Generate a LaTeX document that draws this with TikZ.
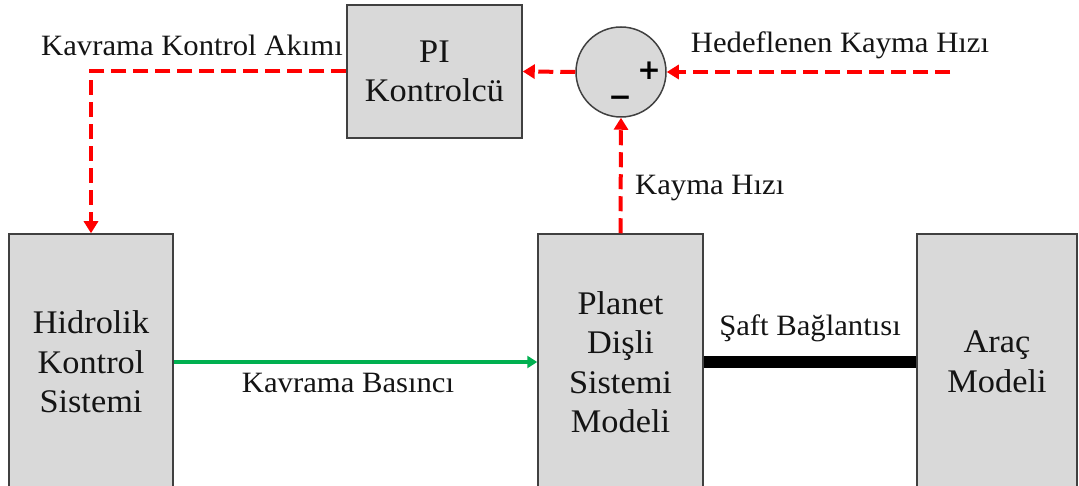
\documentclass[tikz,border=0pt]{standalone}
\usepackage{fontspec}
\setmainfont[FakeStretch=1.04]{Liberation Serif}
\newfontfamily\signfont{DejaVu Sans}
\usetikzlibrary{arrows.meta}
\definecolor{boxgray}{HTML}{D9D9D9}
\definecolor{edgegray}{HTML}{404040}
\definecolor{sigred}{HTML}{FF0000}
\definecolor{siggreen}{HTML}{00B050}
\definecolor{inkblack}{HTML}{141414}

\begin{document}
\begin{tikzpicture}[x=1pt,y=-1pt,
  block/.style={draw=edgegray,line width=1.5pt,fill=boxgray,align=center,
    text=inkblack,font=\fontsize{33}{39.5}\selectfont,inner sep=0pt},
  sumjunction/.style={circle,draw=edgegray,line width=1.5pt,fill=boxgray,
    minimum size=90pt,inner sep=0pt},
  ctrl/.style={draw=sigred,line width=4pt,dash pattern=on 15pt off 7pt,
    -{Triangle[length=12pt,width=14pt]}},
  press/.style={draw=siggreen,line width=3.5pt,-{Triangle[length=10pt,width=12pt]}},
  shaft/.style={draw=black,line width=12pt},
  lbl/.style={font=\fontsize{29.5}{32}\selectfont,text=inkblack,inner sep=0pt},
  sign/.style={font=\signfont\bfseries\fontsize{28}{28}\selectfont,inner sep=0pt}]

% canvas; the lower blocks run past the bottom edge
\clip (0,0) rectangle (1079,486);
\fill[white] (0,0) rectangle (1079,486);

% blocks
\node[block,minimum width=175pt,minimum height=133pt] (pi) at (434.5,71.5)
  {PI\\Kontrolcü};
\node[block,minimum width=164pt,minimum height=256pt] (hid) at (91,362)
  {Hidrolik\\Kontrol\\Sistemi};
\node[block,minimum width=165pt,minimum height=256pt] (pla) at (620.5,362)
  {Planet\\Dişli\\Sistemi\\Modeli};
\node[block,minimum width=160pt,minimum height=256pt] (arac) at (997,362)
  {Araç\\Modeli};

% summing junction
\node[sumjunction] (sum) at (621,72) {};
\node[sign] (plus) at (649,71) {+};
\node[sign] (minus) at (620,101) {−};

% signal paths
\coordinate (ref) at (950,72);
\draw[ctrl] (ref) -- (sum.east);
\draw[ctrl] (sum.west) -- (pi.east);
\draw[ctrl] (pi.west) -| (hid.north);
\draw[ctrl] (pla.north) -- (sum.south);
\draw[press] (hid.east) -- (pla.west);
\draw[shaft] (pla.east) -- (arac.west);

% labels
\node[lbl] (lref) at (840,45) {Hedeflenen Kayma Hızı};
\node[lbl,anchor=east] (lcur) at (343,45) {Kavrama Kontrol Akımı};
\node[lbl,anchor=west] (lslip) at (635,188) {Kayma Hızı};
\node[lbl] (lpress) at (348,383) {Kavrama Basıncı};
\node[lbl] (lshaft) at (810,328) {Şaft Bağlantısı};
\end{tikzpicture}
\end{document}
